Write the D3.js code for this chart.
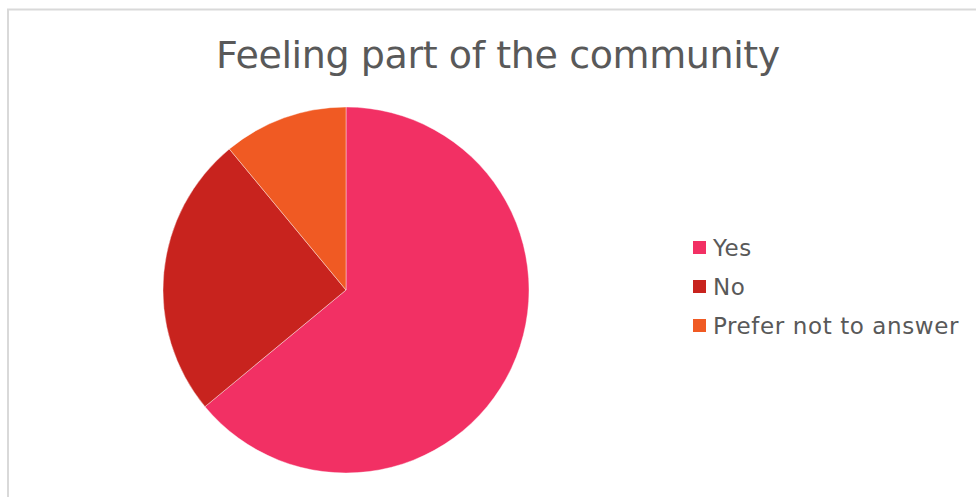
<!DOCTYPE html>
<meta charset="utf-8">
<script src="https://d3js.org/d3.v7.min.js"></script>
<style>
  body { margin: 0; background: #fff; }
  text { font-family: "DejaVu Sans", Verdana, sans-serif; fill: #595959; }
</style>
<body>
<div id="chart"></div>
<script>
  var title = "Feeling part of the community";
  var categories = ["Yes", "No", "Prefer not to answer"];
  var values = [64, 25, 11];
  var colors = ["#f23064", "#c8231e", "#f05a23"];

  var width = 976, height = 497;
  var svg = d3.select("#chart").append("svg")
      .attr("width", width).attr("height", height);

  // chart frame (right/bottom run off the page)
  svg.append("path")
      .attr("d", "M8,497 V9.5 H976")
      .attr("fill", "none")
      .attr("stroke", "#d9d9d9")
      .attr("stroke-width", 2);

  svg.append("text")
      .attr("x", 498).attr("y", 68)
      .attr("text-anchor", "middle")
      .style("font-size", "38px")
      .style("letter-spacing", "-0.4px")
      .text(title);

  var pie = d3.pie().sort(null)(values);
  var arc = d3.arc().innerRadius(0).outerRadius(183);

  var g = svg.append("g").attr("transform", "translate(346,290)");
  g.selectAll("path").data(pie).enter().append("path")
      .attr("d", arc)
      .attr("fill", function(d, i) { return colors[i]; })
      .attr("stroke", "#fff")
      .attr("stroke-width", 0.4);

  var y = d3.scalePoint().domain(categories).range([247.5, 325.5]);
  var leg = svg.selectAll(".leg").data(categories).enter().append("g")
      .attr("class", "leg")
      .attr("transform", function(d) { return "translate(693," + y(d) + ")"; });
  leg.append("rect")
      .attr("x", 0).attr("y", -6.5).attr("width", 13).attr("height", 13)
      .attr("fill", function(d, i) { return colors[i]; });
  leg.append("text")
      .attr("x", 20).attr("y", 8)
      .style("font-size", "23px")
      .style("letter-spacing", "0.6px")
      .text(function(d) { return d; });
</script>
</body>
